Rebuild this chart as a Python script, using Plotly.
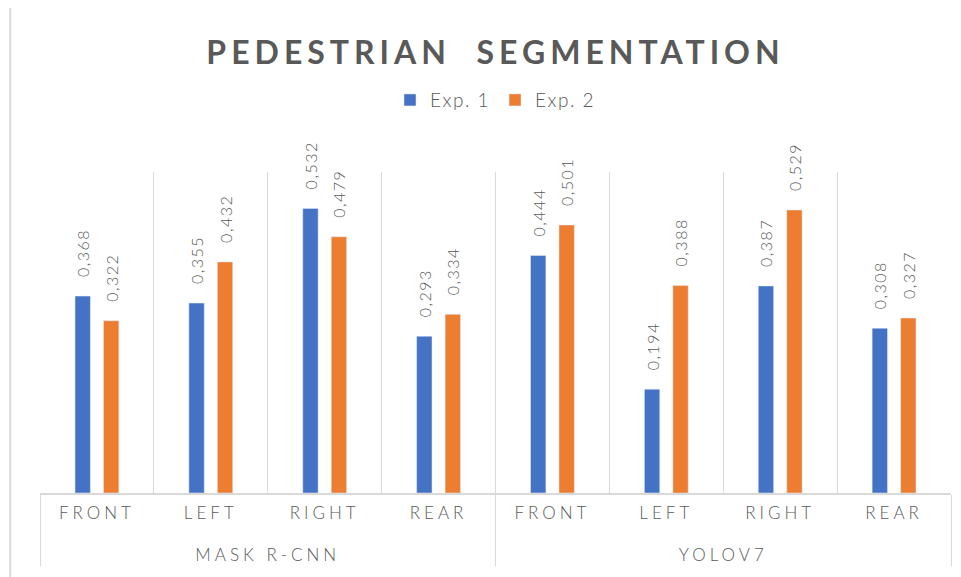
import plotly.graph_objects as go

# data
models = ["MASK R-CNN", "YOLOV7"]
views = ["FRONT", "LEFT", "RIGHT", "REAR"]
series = ["Exp. 1", "Exp. 2"]
exp1 = [0.368, 0.355, 0.532, 0.293, 0.444, 0.194, 0.387, 0.308]
exp2 = [0.322, 0.432, 0.479, 0.334, 0.501, 0.388, 0.529, 0.327]

grey = "#595959"
line_grey = "#D9D9D9"


def spaced(s, px=4):
    return f'<span style="letter-spacing:{px}px">{s}</span>'


# blank first line pushes the group row further down, like excel
lvl0 = ["\u00a0<br>" + spaced(m, 4) for m in models for _ in views]
lvl1 = [spaced(v) for _ in models for v in views]

# en spaces in front keep the label off the bar top
label_tmpl = "\u2002\u2002" + spaced("%{y:.3f}", 1.5)

fig = go.Figure()
for name, vals, col in zip(series, [exp1, exp2], ["#4472C4", "#ED7D31"]):
    fig.add_trace(go.Bar(
        x=[lvl0, lvl1], y=vals, name=spaced(name, 1.5), marker_color=col,
        texttemplate=label_tmpl, textposition="outside", textangle=-90,
        constraintext="none",
        textfont=dict(size=16, color=grey, weight=300), cliponaxis=False,
    ))

# page body has an 8px margin, so the figure is 8px smaller than the window
fig.update_layout(
    width=953, height=569,
    margin=dict(l=32, r=10, t=164, b=84),
    paper_bgcolor="white", plot_bgcolor="white",
    font=dict(family="Lato", color=grey),
    separators=",.",
    barmode="group", bargap=0.5, bargroupgap=0.46,
    title=dict(text=f'<b>{spaced("PEDESTRIAN  SEGMENTATION", 5)}</b>',
               xref="paper", x=0.5, xanchor="center",
               y=1 - 45 / 569, yanchor="middle",
               font=dict(size=32, color=grey)),
    legend=dict(orientation="h", x=0.5, xanchor="center", y=1.224,
                yanchor="middle", font=dict(size=19, color=grey, weight=300),
                itemwidth=30, traceorder="normal"),
    showlegend=True,
    shapes=[dict(type="rect", xref="paper", yref="paper",
                 x0=-0.0327, x1=1.2, y0=-0.5, y1=1.5335,
                 line=dict(color=line_grey, width=2), layer="below")],
)
fig.update_xaxes(
    type="multicategory", tickson="boundaries",
    showgrid=True, gridcolor=line_grey, gridwidth=1,
    showline=True, linecolor=line_grey, linewidth=2,
    showdividers=True, dividercolor=line_grey, dividerwidth=1,
    tickfont=dict(size=17, color=grey, weight=300), ticks="", ticklabelstandoff=4,
)
fig.update_yaxes(range=[0, 0.6], visible=False)

fig.write_html("out.html")
